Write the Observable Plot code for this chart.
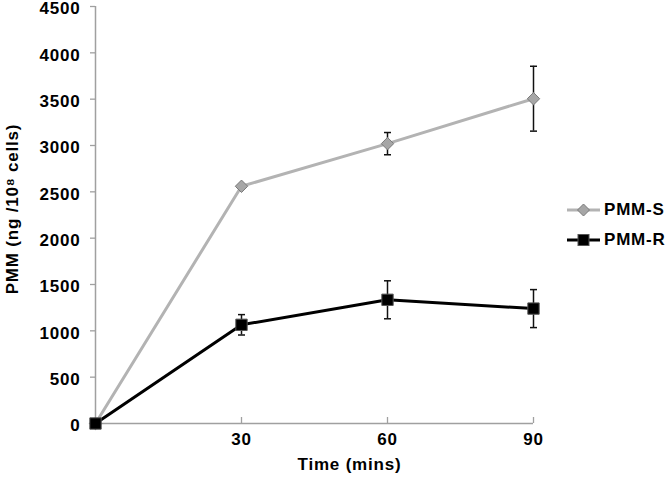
<!DOCTYPE html>
<html>
<head>
<meta charset="utf-8">
<script src="https://cdn.jsdelivr.net/npm/d3@7"></script>
<script src="https://cdn.jsdelivr.net/npm/@observablehq/plot@0.6"></script>
<style>
  html, body { margin: 0; padding: 0; background: #fff; }
  #wrap { position: relative; width: 666px; height: 481px; }
  .legend { position: absolute; left: 567px; top: 195px; font-family: "Liberation Sans", Arial, sans-serif; font-size: 17px; font-weight: bold; letter-spacing: 0.8px; color: #000; }
  .legend .row { display: flex; align-items: center; height: 30px; }
  .legend svg { margin-right: 4px; }
</style>
</head>
<body>
<div id="wrap"></div>
<script>
const times = [0, 30, 60, 90];
const seriesNames = ["PMM-S", "PMM-R"];
const pmmS = [0, 2560, 3020, 3505];
const pmmSErr = [0, 0, 120, 350];
const pmmR = [0, 1065, 1335, 1240];
const pmmRErr = [0, 110, 205, 205];
const xTicks = [30, 60, 90];
const yTicks = [0, 500, 1000, 1500, 2000, 2500, 3000, 3500, 4000, 4500];
const xLabel = "Time (mins)";
const yLabel = "PMM (ng /10\u2078 cells)";

const sData = times.map((t, i) => ({t, v: pmmS[i], e: pmmSErr[i]}));
const rData = times.map((t, i) => ({t, v: pmmR[i], e: pmmRErr[i]}));
const errData = [...sData, ...rData].filter(d => d.e > 0);

const capSymbol = { draw(ctx) { ctx.moveTo(-3.5, 0); ctx.lineTo(3.5, 0); } };

const fontStyle = {fontFamily: "'Liberation Sans', Arial, sans-serif", fontSize: "17px", fontWeight: "bold", letterSpacing: "0.8px", color: "#000", background: "#fff"};

const chart = Plot.plot({
  width: 666, height: 481,
  marginLeft: 95, marginRight: 133, marginTop: 6, marginBottom: 58,
  style: fontStyle,
  x: {domain: [0, 90]},
  y: {domain: [0, 4500]},
  marks: [
    Plot.axisY({ticks: yTicks, tickSize: 5, tickFormat: () => "", stroke: "#a0a0a0", strokeWidth: 1.3, label: null}),
    Plot.axisY({ticks: yTicks, tickSize: 0, tickPadding: 15, dy: 2.5, tickFormat: d => `${d}`, label: null}),
    Plot.axisX({ticks: xTicks, tickSize: 0, tickPadding: 9, tickFormat: d => `${d}`, label: null}),
    Plot.tickX(xTicks, {x: d => d, stroke: "#a0a0a0", strokeWidth: 1.3, insetTop: 411}),
    Plot.ruleX([0], {stroke: "#a0a0a0", strokeWidth: 1.5}),
    Plot.ruleY([0], {stroke: "#a0a0a0", strokeWidth: 1.5}),
    Plot.line(sData, {x: "t", y: "v", stroke: "#b3b3b3", strokeWidth: 3}),
    Plot.line(rData, {x: "t", y: "v", stroke: "#000", strokeWidth: 3}),
    Plot.ruleX(errData, {x: "t", y1: d => d.v - d.e, y2: d => d.v + d.e, stroke: "#111", strokeWidth: 1.5}),
    Plot.dot(errData, {x: "t", y: d => d.v - d.e, symbol: capSymbol, stroke: "#111", strokeWidth: 1.5}),
    Plot.dot(errData, {x: "t", y: d => d.v + d.e, symbol: capSymbol, stroke: "#111", strokeWidth: 1.5}),
    Plot.dot(sData, {x: "t", y: "v", symbol: "diamond2", r: 5.6, fill: "#a6a6a6", stroke: "#7a7a7a", strokeWidth: 1}),
    Plot.dot(rData, {x: "t", y: "v", symbol: "square", r: 6.4, fill: "#000", stroke: "#555", strokeWidth: 1}),
    Plot.text([xLabel], {text: d => d, frameAnchor: "bottom", dx: 35, dy: 46, fontSize: 17, fontWeight: "bold"}),
    Plot.text([yLabel], {text: d => d, frameAnchor: "left", textAnchor: "middle", rotate: -90, dx: -83, dy: -6, fontSize: 17, fontWeight: "bold"})
  ]
});

const wrap = document.getElementById("wrap");
wrap.appendChild(chart);

const legend = document.createElement("div");
legend.className = "legend";
legend.innerHTML = `
  <div class="row"><svg width="33" height="14"><line x1="0" y1="7" x2="33" y2="7" stroke="#b3b3b3" stroke-width="3"/><path d="M16.5,1 L22.5,7 L16.5,13 L10.5,7 Z" fill="#a6a6a6" stroke="#7a7a7a"/></svg><span>${seriesNames[0]}</span></div>
  <div class="row"><svg width="33" height="14"><line x1="0" y1="7" x2="33" y2="7" stroke="#000" stroke-width="3"/><rect x="11" y="1.5" width="11" height="11" fill="#000" stroke="#555"/></svg><span>${seriesNames[1]}</span></div>`;
wrap.appendChild(legend);
</script>
</body>
</html>
